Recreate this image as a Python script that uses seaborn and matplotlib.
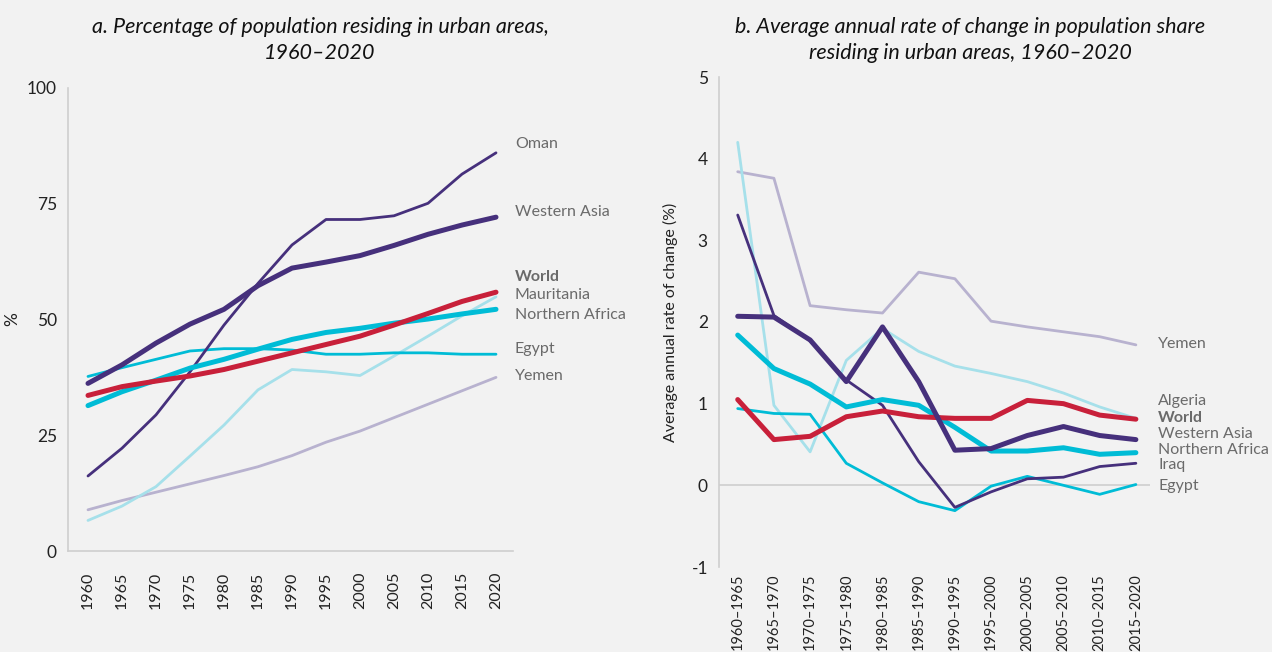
import numpy as np
import pandas as pd
import matplotlib
matplotlib.use("Agg")
import matplotlib.pyplot as plt
import seaborn as sns

# --- data ---
years = [1960, 1965, 1970, 1975, 1980, 1985, 1990, 1995, 2000, 2005, 2010, 2015, 2020]
oman = [16.2, 22.2, 29.4, 38.7, 48.8, 57.8, 66.1, 71.6, 71.6, 72.4, 75.1, 81.4, 86.0]
western_asia = [36.2, 40.2, 44.9, 49.0, 52.2, 57.3, 61.1, 62.4, 63.8, 66.0, 68.4, 70.4, 72.1]
world = [33.6, 35.5, 36.7, 37.8, 39.2, 41.0, 42.8, 44.6, 46.4, 48.8, 51.3, 53.9, 55.9]
northern_africa = [31.4, 34.4, 36.9, 39.5, 41.4, 43.6, 45.7, 47.2, 48.1, 49.2, 50.1, 51.2, 52.2]
egypt = [37.7, 39.6, 41.4, 43.2, 43.7, 43.7, 43.4, 42.5, 42.5, 42.8, 42.8, 42.5, 42.5]
mauritania = [6.6, 9.7, 13.9, 20.5, 27.2, 34.8, 39.2, 38.7, 37.9, 42.1, 46.4, 50.8, 54.9]
yemen = [8.9, 10.9, 12.7, 14.5, 16.3, 18.2, 20.6, 23.5, 25.9, 28.8, 31.7, 34.6, 37.5]

periods = ["1960\u20131965", "1965\u20131970", "1970\u20131975", "1975\u20131980",
           "1980\u20131985", "1985\u20131990", "1990\u20131995", "1995\u20132000",
           "2000\u20132005", "2005\u20132010", "2010\u20132015", "2015\u20132020"]
yemen_rate = [3.84, 3.76, 2.20, 2.15, 2.11, 2.61, 2.53, 2.01, 1.94, 1.88, 1.82, 1.72]
algeria_rate = [4.20, 0.98, 0.41, 1.53, 1.92, 1.64, 1.46, 1.37, 1.27, 1.13, 0.96, 0.82]
iraq_rate = [3.31, 2.08, 1.77, 1.29, 0.98, 0.29, -0.27, -0.08, 0.08, 0.10, 0.23, 0.27]
wasia_rate = [2.07, 2.06, 1.78, 1.27, 1.94, 1.27, 0.43, 0.45, 0.61, 0.72, 0.61, 0.56]
world_rate = [1.05, 0.56, 0.60, 0.84, 0.91, 0.84, 0.82, 0.82, 1.04, 1.00, 0.86, 0.81]
nafrica_rate = [1.84, 1.43, 1.24, 0.96, 1.05, 0.98, 0.71, 0.42, 0.42, 0.46, 0.38, 0.40]
egypt_rate = [0.94, 0.88, 0.87, 0.27, 0.03, -0.20, -0.31, -0.01, 0.11, 0.00, -0.11, 0.01]

# colours
PURPLE = "#46307c"
RED = "#c8203a"
CYAN = "#00bcd6"
LCYAN = "#a6e0ea"
LAV = "#b8b2cf"
BG = "#f2f2f2"
GRID = "#cfcfcf"
TXT = "#6a6a6a"

sns.set_theme(style="white")
plt.rcParams["font.family"] = ["Lato", "DejaVu Sans"]

W, H = 1272, 652
fig = plt.figure(figsize=(12.72, 6.52), dpi=100, facecolor=BG)
ax1 = fig.add_axes([68 / W, 1 - 551 / H, (513 - 68) / W, (551 - 88) / H])
ax2 = fig.add_axes([719 / W, 1 - 567 / H, (1150 - 719) / W, (567 - 77) / H])
for ax in (ax1, ax2):
    ax.set_facecolor(BG)

# --- panel a ---
left_series = [
    ("Yemen", yemen, LAV, 2.0),
    ("Mauritania", mauritania, LCYAN, 2.0),
    ("Egypt", egypt, CYAN, 2.0),
    ("Oman", oman, PURPLE, 2.0),
    ("Northern Africa", northern_africa, CYAN, 3.6),
    ("World", world, RED, 3.6),
    ("Western Asia", western_asia, PURPLE, 3.6),
]
for name, vals, col, lw in left_series:
    sns.lineplot(x=years, y=vals, ax=ax1, color=col, linewidth=lw, legend=False)

ax1.set_xlim(1957.06, 2022.5)
ax1.set_ylim(0, 100)
ax1.set_xticks(years)
ax1.set_xticklabels([str(y) for y in years], rotation=90, fontsize=11.5, color="#222222")
ax1.set_yticks([0, 25, 50, 75, 100])
ax1.set_yticklabels(["0", "25", "50", "75", "100"], fontsize=12.5, color="#222222")
ax1.tick_params(axis="x", length=0, pad=15)
ax1.tick_params(axis="y", length=4, color=GRID, width=1, pad=4)
for s in ("top", "right"):
    ax1.spines[s].set_visible(False)
for s in ("left", "bottom"):
    ax1.spines[s].set_color(GRID)
    ax1.spines[s].set_linewidth(1.2)
ax1.set_ylabel("%", fontsize=12.5, color="#222222", labelpad=5)
ax1.set_xlabel("")

LAB_FS = 11.5
left_labels = [("Oman", 144, "normal"), ("Western Asia", 212, "normal"),
               ("World", 277, "bold"), ("Mauritania", 295, "normal"),
               ("Northern Africa", 315, "normal"), ("Egypt", 349, "normal"),
               ("Yemen", 376, "normal")]
for name, ypix, wt in left_labels:
    fig.text(515 / W, 1 - ypix / H, name, fontsize=LAB_FS, color=TXT, fontweight=wt,
             va="center", ha="left")

# --- panel b ---
idx = list(range(len(periods)))
right_series = [
    ("Yemen", yemen_rate, LAV, 2.0),
    ("Algeria", algeria_rate, LCYAN, 2.0),
    ("Egypt", egypt_rate, CYAN, 2.0),
    ("Iraq", iraq_rate, PURPLE, 2.0),
    ("Northern Africa", nafrica_rate, CYAN, 3.6),
    ("World", world_rate, RED, 3.6),
    ("Western Asia", wasia_rate, PURPLE, 3.6),
]
ax2.axhline(0, color=GRID, linewidth=1.2, zorder=0)
for name, vals, col, lw in right_series:
    sns.lineplot(x=idx, y=vals, ax=ax2, color=col, linewidth=lw, legend=False)

ax2.set_xlim(-0.517, 11.39)
ax2.set_ylim(-1, 5)
ax2.set_xticks(idx)
ax2.set_xticklabels(periods, rotation=90, fontsize=10.5, color="#222222")
ax2.set_yticks([-1, 0, 1, 2, 3, 4, 5])
ax2.set_yticklabels(["-1", "0", "1", "2", "3", "4", "5"], fontsize=12.5, color="#222222")
ax2.tick_params(axis="x", length=0, pad=5)
ax2.tick_params(axis="y", length=4, color=GRID, width=1, pad=4)
for s in ("top", "right", "bottom"):
    ax2.spines[s].set_visible(False)
ax2.spines["left"].set_color(GRID)
ax2.spines["left"].set_linewidth(1.2)
ax2.set_ylabel("Average annual rate of change (%)", fontsize=11.5, color="#222222", labelpad=10)
ax2.set_xlabel("")

right_labels = [("Yemen", 344, "normal"), ("Algeria", 401, "normal"), ("World", 418, "bold"),
                ("Western Asia", 434, "normal"), ("Northern Africa", 450, "normal"),
                ("Iraq", 465, "normal"), ("Egypt", 486, "normal")]
for name, ypix, wt in right_labels:
    fig.text(1158 / W, 1 - ypix / H, name, fontsize=LAB_FS, color=TXT, fontweight=wt,
             va="center", ha="left")

# titles
title_kw = dict(fontsize=15.5, style="italic", ha="center", va="center", color="#111111")
fig.text(320 / W, 1 - 27 / H, "a. Percentage of population residing in urban areas,", **title_kw)
fig.text(320 / W, 1 - 53 / H, "1960\u20132020", **title_kw)
fig.text(970 / W, 1 - 27 / H, "b. Average annual rate of change in population share", **title_kw)
fig.text(970 / W, 1 - 53 / H, "residing in urban areas, 1960\u20132020", **title_kw)

fig.savefig("out.png", dpi=100, facecolor=BG)
